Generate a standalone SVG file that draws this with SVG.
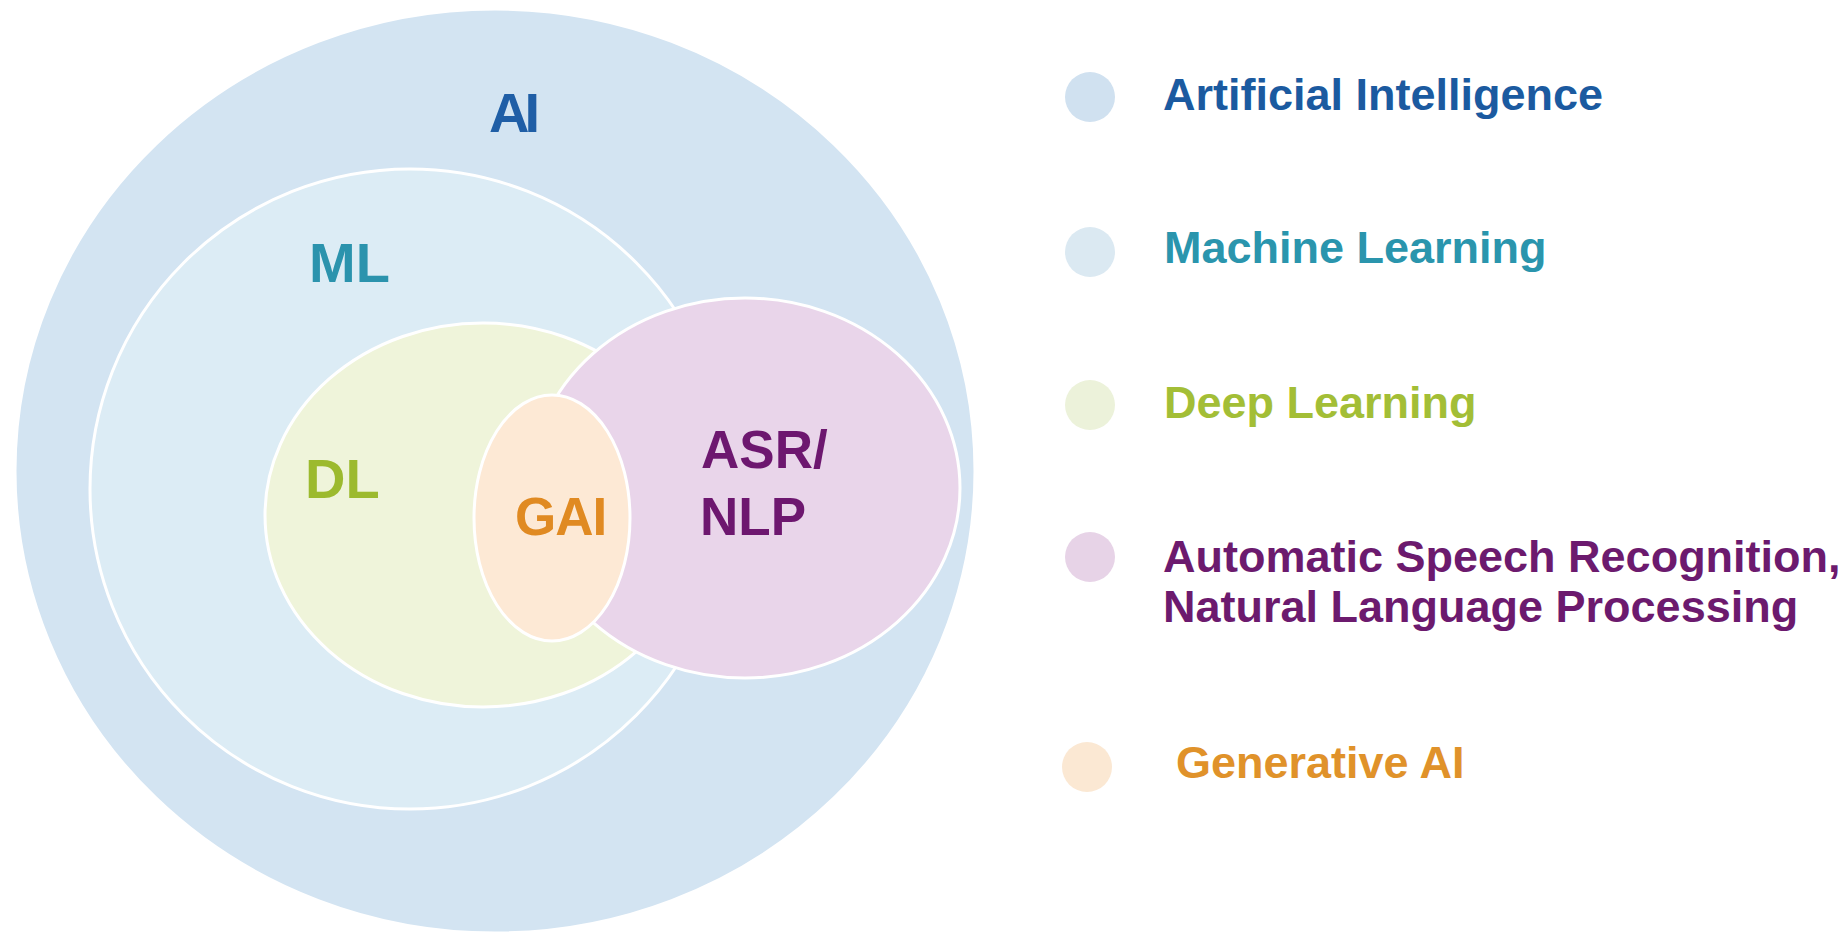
<svg xmlns="http://www.w3.org/2000/svg" width="1847" height="935" viewBox="0 0 1847 935">
  <style>
    .shape { stroke: #ffffff; stroke-width: 3; }
    .lbl { font-family: "Liberation Sans", Arial, sans-serif; font-weight: bold; }
    .big { font-size: 56px; }
    .mid { font-size: 53px; }
    .leg { font-size: 45px; }
  </style>
  <rect x="0" y="0" width="1847" height="935" fill="#ffffff"/>
  <g id="node-ai">
    <ellipse class="shape" cx="495" cy="471" rx="480" ry="462" fill="#d3e4f2" stroke-width="1.5"/>
    <text class="lbl big" x="489" y="132" fill="#1f5ea6" letter-spacing="-5">AI</text>
  </g>
  <g id="node-ml">
    <circle class="shape" cx="410" cy="489" r="320" fill="#dcecf5"/>
    <text class="lbl big" x="309" y="282" fill="#2b93ad">ML</text>
  </g>
  <g id="node-dl">
    <ellipse class="shape" cx="483" cy="515" rx="218" ry="192" fill="#eff4da"/>
    <text class="lbl big" x="305" y="498" fill="#9cba2e">DL</text>
  </g>
  <g id="node-asr">
    <ellipse class="shape" cx="745" cy="488" rx="215" ry="190" fill="#e9d5ea"/>
    <text class="lbl mid" x="701" y="468" fill="#6d176f">ASR/</text>
    <text class="lbl mid" x="700" y="535" fill="#6d176f">NLP</text>
  </g>
  <g id="node-gai">
    <ellipse class="shape" cx="552" cy="518" rx="78" ry="123" fill="#fde9d5"/>
    <text class="lbl mid" x="515" y="535" fill="#e08a22" letter-spacing="-1">GAI</text>
  </g>
  <g id="connectors"></g>
  <g id="legend-ai">
    <circle cx="1090" cy="97" r="25" fill="#d0e1f0"/>
    <text class="lbl leg" x="1163" y="110" fill="#1b5aa0">Artificial Intelligence</text>
  </g>
  <g id="legend-ml">
    <circle cx="1090" cy="252" r="25" fill="#dbe9f2"/>
    <text class="lbl leg" x="1164" y="263" fill="#2a95ad">Machine Learning</text>
  </g>
  <g id="legend-dl">
    <circle cx="1090" cy="405" r="25" fill="#ecf2da"/>
    <text class="lbl leg" x="1164" y="418" fill="#a3be36">Deep Learning</text>
  </g>
  <g id="legend-asr">
    <circle cx="1090" cy="557" r="25" fill="#e7d3e7"/>
    <text class="lbl leg" x="1163" y="572" fill="#6c1a6e">Automatic Speech Recognition,</text>
    <text class="lbl leg" x="1163" y="622" fill="#6c1a6e">Natural Language Processing</text>
  </g>
  <g id="legend-gai">
    <circle cx="1087" cy="767" r="25" fill="#fbe8d3"/>
    <text class="lbl leg" x="1176" y="778" fill="#e0922a">Generative AI</text>
  </g>
</svg>
